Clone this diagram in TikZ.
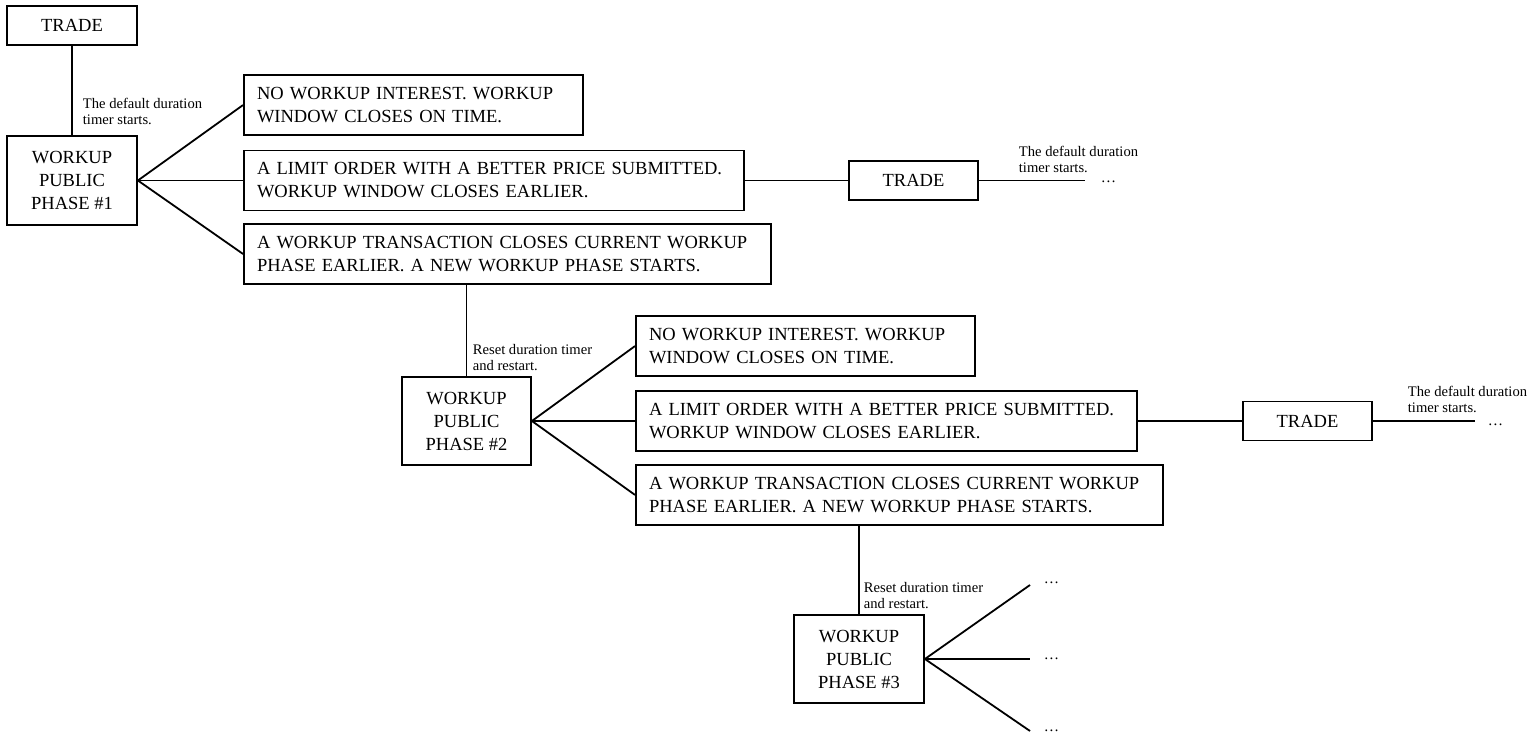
\documentclass[tikz,border=0pt]{standalone}
\usepackage{fontspec}
\setmainfont{Liberation Serif}
\begin{document}
\begin{tikzpicture}[x=1pt,y=-1pt,
  line width=1.8pt,
  box/.style={draw, line width=1.8pt, inner sep=0pt, font=\fontsize{18.5}{23}\selectfont},
  wide/.style={box, align=left, inner xsep=13pt, minimum height=60pt},
  phase/.style={box, align=center, minimum width=129pt, minimum height=88pt},
  trade/.style={box, minimum width=129pt, minimum height=39pt},
  lab/.style={inner sep=0pt, anchor=north west, align=left, font=\fontsize{14.6}{16.5}\selectfont},
  dots/.style={inner sep=0pt, anchor=base west, font=\fontsize{15.3}{16.5}\selectfont}]
\useasboundingbox (0,0) rectangle (1532,735);

% first level
\node[trade, minimum width=130pt] (t1) at (72,25.5) {TRADE};
\node[phase, minimum width=130pt, minimum height=89pt] (p1) at (72,180.5) {WORKUP\\PUBLIC\\PHASE \#1};
\node[wide, text width=313pt] (n1) at (413.5,105) {NO WORKUP INTEREST. WORKUP\\WINDOW CLOSES ON TIME.};
\node[wide, text width=474pt] (l1) at (494,180.5) {A LIMIT ORDER WITH A BETTER PRICE SUBMITTED.\\WORKUP WINDOW CLOSES EARLIER.};
\node[wide, text width=501pt] (w1) at (507.5,254) {A WORKUP TRANSACTION CLOSES CURRENT WORKUP\\PHASE EARLIER. A NEW WORKUP PHASE STARTS.};
\node[trade] (t2) at (913.5,180.5) {TRADE};
\coordinate (e1) at (1085,180.5);

\draw (t1.south) -- (p1.north);
\draw (p1.east) -- (n1.west);
\draw (p1.east) -- (l1.west);
\draw (p1.east) -- (w1.west);
\draw (l1.east) -- (t2.west);
\draw (t2.east) -- (e1);
\node[lab] (a1) at (82,97) {The default duration\\timer starts.};
\node[lab] (a2) at (1018,145) {The default duration\\timer starts.};
\node[dots] (d1) at (1100,183) {…};

% second level
\node[phase] (p2) at (466.5,421) {WORKUP\\PUBLIC\\PHASE \#2};
\node[wide, text width=313pt] (n2) at (805.5,346) {NO WORKUP INTEREST. WORKUP\\WINDOW CLOSES ON TIME.};
\node[wide, text width=475pt] (l2) at (886.5,421) {A LIMIT ORDER WITH A BETTER PRICE SUBMITTED.\\WORKUP WINDOW CLOSES EARLIER.};
\node[wide, text width=501pt] (w2) at (899.5,495) {A WORKUP TRANSACTION CLOSES CURRENT WORKUP\\PHASE EARLIER. A NEW WORKUP PHASE STARTS.};
\node[trade] (t3) at (1307.5,421) {TRADE};
\coordinate (e2) at (1475,421);

\draw (p2.north) -- (p2.north |- w1.south);
\draw (p2.east) -- (n2.west);
\draw (p2.east) -- (l2.west);
\draw (p2.east) -- (w2.west);
\draw (l2.east) -- (t3.west);
\draw (t3.east) -- (e2);
\node[lab] (a3) at (472,343) {Reset duration timer\\and restart.};
\node[lab] (a4) at (1407,385) {The default duration\\timer starts.};
\node[dots] (d2) at (1487,425) {…};

% third level
\node[phase, minimum width=130pt] (p3) at (859,659) {WORKUP\\PUBLIC\\PHASE \#3};
\coordinate (c1) at (1030,585);
\coordinate (c2) at (1030,659);
\coordinate (c3) at (1030,731);
\draw (p3.north) -- (p3.north |- w2.south);
\draw (p3.east) -- (c1);
\draw (p3.east) -- (c2);
\draw (p3.east) -- (c3);
\node[lab] (a5) at (863,581) {Reset duration timer\\and restart.};
\node[dots] (d3) at (1043,583) {…};
\node[dots] (d4) at (1043,659) {…};
\node[dots] (d5) at (1043,731) {…};
\end{tikzpicture}
\end{document}
